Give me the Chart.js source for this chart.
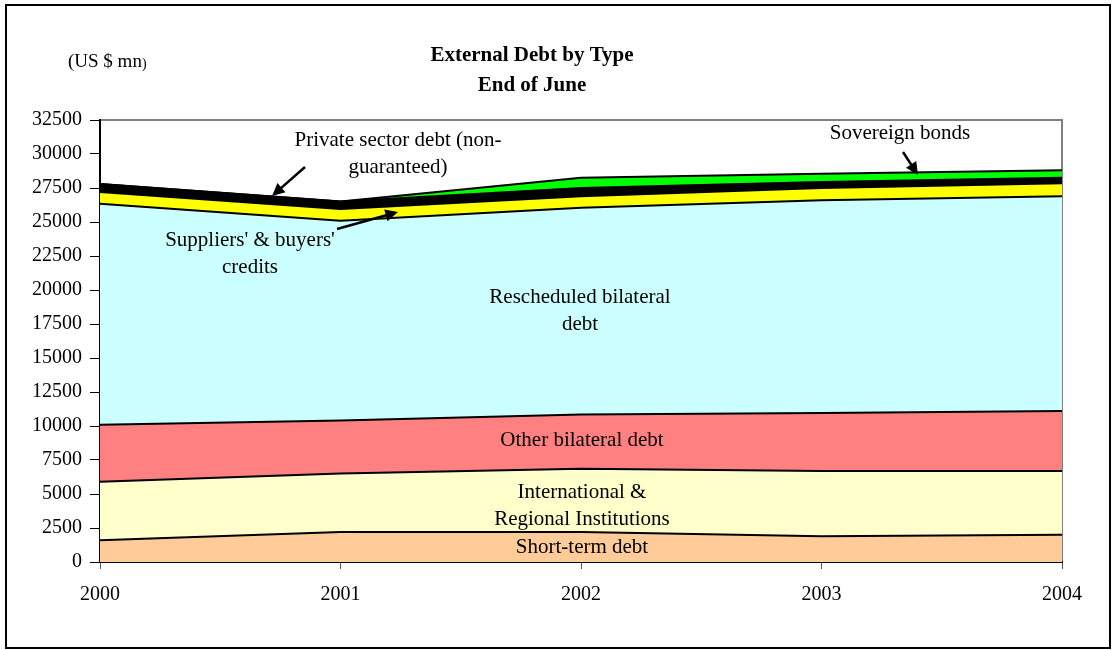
<!DOCTYPE html>
<html>
<head>
<meta charset="utf-8">
<script src="https://cdn.jsdelivr.net/npm/chart.js@4/dist/chart.umd.min.js"></script>
<style>
  html, body { margin: 0; padding: 0; background: #fff; }
  #wrap { width: 1113px; height: 650px; }
</style>
</head>
<body>
<div id="wrap"><canvas id="grafico"></canvas></div>
<script>
// years on the category axis
const anos = ['2000', '2001', '2002', '2003', '2004'];

// debt by type, US $ mn (stacked from the bottom up)
const curtoPrazo = [1600, 2200, 2200, 1900, 2000];
const institucoes = [4300, 4300, 4650, 4800, 4700];
const outrosBilaterais = [4200, 3900, 4000, 4250, 4400];
const reescalonada = [16250, 14700, 15200, 15650, 15800];
const fornecedores = [850, 850, 850, 900, 950];
const setorPrivado = [600, 550, 600, 450, 400];
const titulosSoberanos = [0, 0, 750, 600, 550];

// y axis range
const yMin = 0;
const yMax = 32500;
const yPasso = 2500;

const series = [
    { label: 'Short-term debt', data: curtoPrazo, cor: '#FFCC99' },
    { label: 'International & Regional Institutions', data: institucoes, cor: '#FFFFCC' },
    { label: 'Other bilateral debt', data: outrosBilaterais, cor: '#FF8080' },
    { label: 'Rescheduled bilateral debt', data: reescalonada, cor: '#CCFFFF' },
    { label: "Suppliers' & buyers' credits", data: fornecedores, cor: '#FFFF00' },
    { label: 'Private sector debt (non-guaranteed)', data: setorPrivado, cor: '#000000' },
    { label: 'Sovereign bonds', data: titulosSoberanos, cor: '#00FF00' }
];

const FONTE = '"Liberation Serif", "Times New Roman", serif';

// text written on top of the areas
const rotulos = [
    { linhas: ['Rescheduled bilateral', 'debt'], x: 580, y: 297 },
    { linhas: ['Other bilateral debt'], x: 582, y: 440 },
    { linhas: ['International &', 'Regional Institutions'], x: 582, y: 492 },
    { linhas: ['Short-term debt'], x: 582, y: 547 },
    { linhas: ['Private sector debt (non-', 'guaranteed)'], x: 398, y: 140 },
    { linhas: ["Suppliers' & buyers'", 'credits'], x: 250, y: 240 },
    { linhas: ['Sovereign bonds'], x: 900, y: 133 }
];

const setas = [
    { de: [305, 167], para: [272, 196] },
    { de: [337, 229], para: [398, 212] },
    { de: [903, 152], para: [918, 175] }
];

function desenharSeta(ctx, de, para) {
    const ang = Math.atan2(para[1] - de[1], para[0] - de[0]);
    const tam = 14;
    ctx.save();
    ctx.strokeStyle = '#000';
    ctx.fillStyle = '#000';
    ctx.lineWidth = 2.5;
    ctx.beginPath();
    ctx.moveTo(de[0], de[1]);
    ctx.lineTo(para[0] - Math.cos(ang) * tam * 0.8, para[1] - Math.sin(ang) * tam * 0.8);
    ctx.stroke();
    ctx.beginPath();
    ctx.moveTo(para[0], para[1]);
    ctx.lineTo(para[0] - tam * Math.cos(ang - 0.45), para[1] - tam * Math.sin(ang - 0.45));
    ctx.lineTo(para[0] - tam * Math.cos(ang + 0.45), para[1] - tam * Math.sin(ang + 0.45));
    ctx.closePath();
    ctx.fill();
    ctx.restore();
}

const decoracao = {
    id: 'decoracao',
    beforeDraw(chart) {
        const ctx = chart.ctx;
        const a = chart.chartArea;
        ctx.save();
        ctx.fillStyle = '#fff';
        ctx.fillRect(0, 0, chart.width, chart.height);
        // outer frame
        ctx.strokeStyle = '#000';
        ctx.lineWidth = 2;
        ctx.strokeRect(6, 5, 1104, 643);
        // plot area frame
        ctx.strokeStyle = '#808080';
        ctx.lineWidth = 2;
        ctx.strokeRect(a.left, a.top, a.right - a.left, a.bottom - a.top);
        // titles
        ctx.fillStyle = '#000';
        ctx.textAlign = 'center';
        ctx.textBaseline = 'middle';
        ctx.font = 'bold 21px ' + FONTE;
        ctx.fillText('External Debt by Type', 532, 56);
        ctx.fillText('End of June', 532, 86);
        ctx.textAlign = 'left';
        ctx.font = '19px ' + FONTE;
        ctx.fillText('(US $ mn', 68, 62);
        const w = ctx.measureText('(US $ mn').width;
        ctx.font = '14px ' + FONTE;
        ctx.fillText(')', 68 + w, 64);
        ctx.restore();
    },
    afterDraw(chart) {
        const ctx = chart.ctx;
        ctx.save();
        ctx.fillStyle = '#000';
        ctx.textAlign = 'center';
        ctx.textBaseline = 'middle';
        ctx.font = '21px ' + FONTE;
        rotulos.forEach(r => {
            r.linhas.forEach((t, i) => ctx.fillText(t, r.x, r.y + i * 27));
        });
        ctx.restore();
        setas.forEach(s => desenharSeta(ctx, s.de, s.para));
    }
};

new Chart(document.getElementById('grafico'), {
    type: 'line',
    data: {
        labels: anos,
        datasets: series.map((s, i) => ({
            label: s.label,
            data: s.data,
            backgroundColor: s.cor,
            borderColor: '#000',
            borderWidth: 2,
            fill: i === 0 ? 'origin' : '-1',
            pointRadius: 0,
            tension: 0
        }))
    },
    options: {
        responsive: true,
        maintainAspectRatio: false,
        animation: false,
        layout: { padding: { left: 0, top: 120, right: 51, bottom: 0 } },
        plugins: {
            legend: { display: false },
            tooltip: { enabled: false }
        },
        scales: {
            x: {
                offset: false,
                afterFit: s => { s.height = 88; },
                grid: { drawOnChartArea: false, color: '#555', tickLength: 7, offset: false },
                border: { color: '#000', width: 2 },
                ticks: { color: '#000', font: { family: FONTE, size: 20 }, padding: 14, maxRotation: 0 }
            },
            y: {
                stacked: true,
                min: yMin,
                max: yMax,
                afterFit: s => { s.width = 100; },
                grid: { drawOnChartArea: false, color: '#000', tickLength: 10 },
                border: { color: '#000', width: 2 },
                ticks: {
                    stepSize: yPasso,
                    color: '#000',
                    font: { family: FONTE, size: 20 },
                    padding: 8,
                    callback: v => String(v)
                }
            }
        }
    },
    plugins: [decoracao]
});
</script>
</body>
</html>
